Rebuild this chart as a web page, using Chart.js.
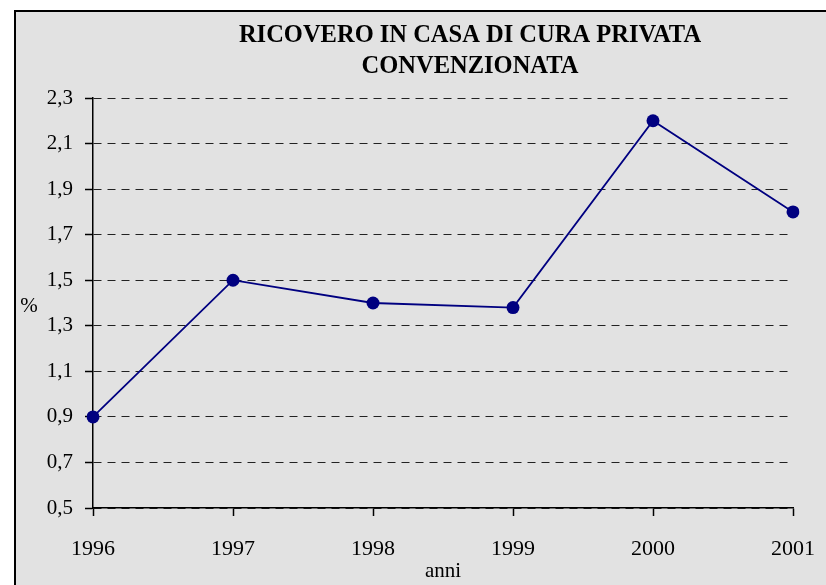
<!DOCTYPE html>
<html>
<head>
<meta charset="utf-8">
<script src="https://cdn.jsdelivr.net/npm/chart.js@4"></script>
<style>
  html, body { margin: 0; padding: 0; background: #fff; }
  #wrap { width: 826px; height: 585px; }
</style>
</head>
<body>
<div id="wrap"><canvas id="chart" width="826" height="585"></canvas></div>
<script>
// ── Data ──
var titleLines = ["RICOVERO IN CASA DI CURA PRIVATA", "CONVENZIONATA"];
var years = ["1996", "1997", "1998", "1999", "2000", "2001"];
var values = [0.9, 1.5, 1.4, 1.38, 2.2, 1.8];
var yTicks = [0.5, 0.7, 0.9, 1.1, 1.3, 1.5, 1.7, 1.9, 2.1, 2.3];
var xTitle = "anni";
var yTitle = "%";

var SERIF = "'Liberation Serif', 'Times New Roman', serif";

// frame, title and axis captions
var decor = {
  id: "decor",
  beforeDraw: function (chart) {
    var ctx = chart.ctx;
    ctx.save();
    ctx.fillStyle = "#fff";
    ctx.fillRect(0, 0, chart.width, chart.height);
    ctx.fillStyle = "#e2e2e2";
    ctx.fillRect(15, 11, chart.width - 15, chart.height - 11);
    ctx.strokeStyle = "#000";
    ctx.lineWidth = 2;
    ctx.beginPath();
    ctx.moveTo(15, chart.height);
    ctx.lineTo(15, 11);
    ctx.lineTo(chart.width, 11);
    ctx.stroke();
    ctx.restore();
  },
  afterDraw: function (chart) {
    var ctx = chart.ctx;
    ctx.save();
    ctx.fillStyle = "#000";
    ctx.textAlign = "center";
    ctx.textBaseline = "alphabetic";
    ctx.font = "bold 24.5px " + SERIF;
    ctx.fillText(titleLines[0], 470, 42);
    ctx.fillText(titleLines[1], 470, 73);
    ctx.font = "21px " + SERIF;
    var a = chart.chartArea;
    ctx.fillText(xTitle, (a.left + a.right) / 2, 577);
    ctx.fillText(yTitle, 29, 312);
    ctx.restore();
  },
};

new Chart(document.getElementById("chart"), {
  type: "line",
  data: {
    labels: years,
    datasets: [{
      data: values,
      borderColor: "#000080",
      backgroundColor: "#000080",
      borderWidth: 1.8,
      pointRadius: 6.5,
      pointHoverRadius: 6.5,
      pointBackgroundColor: "#000080",
      pointBorderWidth: 0,
      tension: 0,
    }],
  },
  options: {
    responsive: false,
    animation: false,
    events: [],
    layout: { padding: { left: 0, right: 33, top: 98, bottom: 0 } },
    plugins: { legend: { display: false }, title: { display: false }, tooltip: { enabled: false } },
    scales: {
      x: {
        type: "category",
        offset: false,
        afterFit: function (s) {
          s.height = 77;
          s.paddingLeft = 0;
          s.paddingRight = 0;
        },
        border: { display: true, color: "#000", width: 1.5 },
        grid: { drawOnChartArea: false, drawTicks: true, tickLength: 8, tickColor: "#000", tickWidth: 1.5 },
        ticks: { color: "#000", padding: 20, maxRotation: 0, font: { family: SERIF, size: 22 } },
      },
      y: {
        min: 0.5,
        max: 2.3,
        afterFit: function (s) { s.width = 93; },
        afterBuildTicks: function (s) {
          s.ticks = yTicks.map(function (v) { return { value: v }; });
        },
        border: { display: true, color: "#000", width: 1.5, dash: [8, 6] },
        grid: {
          color: "#222",
          lineWidth: 1,
          drawTicks: true,
          tickLength: 8,
          tickColor: "#000",
          tickWidth: 1.5,
          tickBorderDash: [],
        },
        ticks: {
          color: "#000",
          padding: 12,
          font: { family: SERIF, size: 21 },
          callback: function (v) { return Number(v).toFixed(1).replace(".", ","); },
        },
      },
    },
  },
  plugins: [decor],
});
</script>
</body>
</html>
